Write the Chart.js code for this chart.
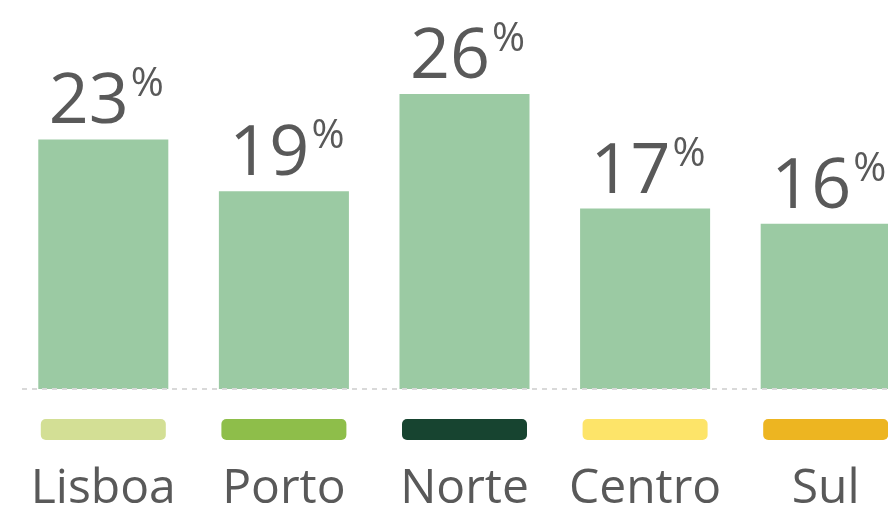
<!DOCTYPE html>
<html>
<head>
<meta charset="utf-8">
<script src="https://cdn.jsdelivr.net/npm/chart.js@4/dist/chart.umd.min.js"></script>
<style>
  html, body { margin: 0; padding: 0; background: #fff; overflow: hidden; }
  #wrap { width: 888px; height: 508px; overflow: hidden; }
</style>
</head>
<body>
<div id="wrap">
  <canvas id="myChart" width="916" height="508"></canvas>
</div>
<script>
// regions shown on the chart
const regions = ['Lisboa', 'Porto', 'Norte', 'Centro', 'Sul'];
// bar heights (share, %)
const shares = [23.1, 18.3, 27.3, 16.7, 15.3];
// percentages printed above the bars
const shownPct = [23, 19, 26, 17, 16];
// colour key under each bar
const keyColors = ['#d3df95', '#8ebe4a', '#174430', '#fde469', '#edb521'];

const textColor = '#595959';
const fontName = '"Open Sans", "Noto Sans", sans-serif';

const labelsPlugin = {
    id: 'labelsPlugin',
    afterDatasetsDraw(chart) {
        const ctx = chart.ctx;
        const area = chart.chartArea;
        const y0 = chart.scales.y.getPixelForValue(0);

        // dashed baseline, drawn over the bars
        ctx.save();
        ctx.strokeStyle = '#d9d9d9';
        ctx.lineWidth = 2;
        ctx.setLineDash([5, 5]);
        ctx.beginPath();
        ctx.moveTo(area.left + 9, y0);
        ctx.lineTo(chart.width, y0);
        ctx.stroke();
        ctx.restore();

        const meta = chart.getDatasetMeta(0);
        meta.data.forEach((bar, i) => {
            const cx = bar.x;

            // value label with superscript %
            ctx.save();
            ctx.fillStyle = textColor;
            ctx.textBaseline = 'alphabetic';
            ctx.textAlign = 'left';
            const num = String(shownPct[i]);
            ctx.font = '70px ' + fontName;
            const wNum = ctx.measureText(num).width;
            ctx.font = '40px ' + fontName;
            const wPct = ctx.measureText('%').width;
            const total = wNum + 2 + wPct;
            const startX = cx + 3 - total / 2;
            const base = bar.y - 16;
            ctx.font = '70px ' + fontName;
            ctx.fillText(num, startX, base);
            ctx.font = '40px ' + fontName;
            ctx.fillText('%', startX + wNum + 2, base - 27);
            ctx.restore();

            // colour key pill
            const pw = 125, ph = 21;
            ctx.save();
            ctx.fillStyle = keyColors[i];
            ctx.beginPath();
            ctx.roundRect(cx - pw / 2, area.bottom + 30, pw, ph, 5);
            ctx.fill();
            ctx.restore();

            // category name
            ctx.save();
            ctx.fillStyle = textColor;
            ctx.font = '48px ' + fontName;
            ctx.textAlign = 'center';
            ctx.textBaseline = 'alphabetic';
            ctx.fillText(regions[i], cx, area.bottom + 114);
            ctx.restore();
        });
    }
};

new Chart(document.getElementById('myChart'), {
    type: 'bar',
    data: {
        labels: regions,
        datasets: [{
            data: shares,
            backgroundColor: '#9bcaa3',
            borderWidth: 0,
            categoryPercentage: 1,
            barPercentage: 0.72
        }]
    },
    options: {
        responsive: false,
        animation: false,
        layout: { padding: { left: 13, right: 0, top: 0, bottom: 119 } },
        plugins: {
            legend: { display: false },
            tooltip: { enabled: false }
        },
        scales: {
            x: { display: false },
            y: { display: false, min: 0, max: 36 }
        }
    },
    plugins: [labelsPlugin]
});
</script>
</body>
</html>
